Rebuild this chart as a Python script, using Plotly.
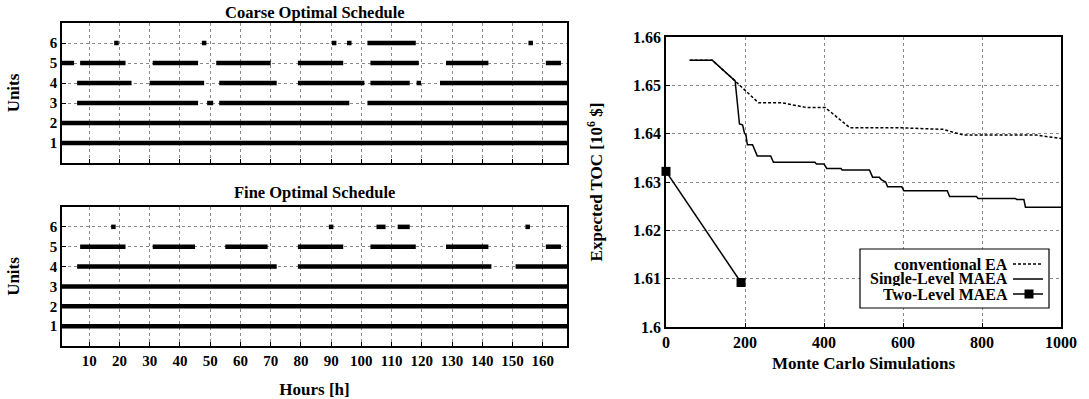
import plotly.graph_objects as go

# ---------------- data ----------------
hours_range = [1, 168]
units = [1, 2, 3, 4, 5, 6]
hour_ticks = [10, 20, 30, 40, 50, 60, 70, 80, 90, 100, 110, 120, 130, 140, 150, 160]

# ON intervals (start hour, end hour) per unit; start == end -> single hour
coarse_u1 = [(1, 168)]
coarse_u2 = [(1, 168)]
coarse_u3 = [(6, 46), (49, 51), (53, 96), (102, 168)]
coarse_u4 = [(6, 24), (30, 48), (53, 72), (79, 101), (103, 116), (119, 119), (126, 168)]
coarse_u5 = [(1, 5), (7, 22), (31, 46), (52, 70), (79, 94), (103, 119), (128, 142), (161, 166)]
coarse_u6 = [(19, 19), (48, 48), (91, 91), (96, 96), (102, 118), (156, 156)]

fine_u1 = [(1, 168)]
fine_u2 = [(1, 168)]
fine_u3 = [(1, 168)]
fine_u4 = [(6, 72), (79, 143), (151, 168)]
fine_u5 = [(7, 22), (31, 45), (55, 69), (79, 94), (103, 118), (128, 142), (161, 166)]
fine_u6 = [(18, 18), (90, 90), (105, 108), (112, 116), (155, 155)]

# Expected TOC curves
conv_ea_x = [60, 117, 175, 234, 293, 356, 403, 440, 466, 597, 701, 753, 938, 1000]
conv_ea_y = [1.6552, 1.6552, 1.6509, 1.6464, 1.6464, 1.6454, 1.6454, 1.6430, 1.6412,
             1.6412, 1.6409, 1.6397, 1.6397, 1.6390]

single_x = [60, 117, 175, 186, 191, 194, 199, 202, 206, 219, 231, 265, 272, 377, 381,
            400, 407, 443, 446, 515, 523, 540, 545, 556, 561, 597, 602, 712, 718, 786,
            790, 884, 888, 906, 910, 1000]
single_y = [1.6552, 1.6552, 1.6509, 1.6420, 1.6419, 1.6418, 1.6400, 1.6399, 1.6377,
            1.6377, 1.6354, 1.6354, 1.6341, 1.6341, 1.6337, 1.6337, 1.6328, 1.6328,
            1.6325, 1.6325, 1.6310, 1.6310, 1.6305, 1.6300, 1.6290, 1.6290, 1.6282,
            1.6282, 1.6270, 1.6270, 1.6266, 1.6266, 1.6264, 1.6264, 1.6248, 1.6248]

two_level_x = [0, 190]
two_level_y = [1.6322, 1.6092]

toc_x_ticks = [0, 200, 400, 600, 800, 1000]
toc_y_ticks = [1.60, 1.61, 1.62, 1.63, 1.64, 1.65, 1.66]
toc_y_labels = ["1.6", "1.61", "1.62", "1.63", "1.64", "1.65", "1.66"]

legend_names = ["conventional EA", "Single-Level MAEA", "Two-Level MAEA"]

# ---------------- figure ----------------
FONT = "Liberation Serif"
W, H = 1089, 399


def px_x(p):
    return p / W


def px_y(p):
    return 1 - p / H


def b(s):
    return "<b>" + str(s) + "</b>"


fig = go.Figure()


def add_schedule(sched, xa, ya):
    for u, ivals in zip(units, sched):
        lx, ly, sx, sy = [], [], [], []
        for s, e in ivals:
            if e > s:
                lx += [s, e, None]
                ly += [u, u, None]
            else:
                sx.append(s)
                sy.append(u)
        fig.add_trace(go.Scatter(x=lx, y=ly, mode="lines", xaxis=xa, yaxis=ya,
                                 line=dict(color="black", width=4.5),
                                 showlegend=False, hoverinfo="skip"))
        if sx:
            fig.add_trace(go.Scatter(x=sx, y=sy, mode="markers", xaxis=xa, yaxis=ya,
                                     marker=dict(symbol="square", color="black", size=4.5,
                                                 line=dict(width=0)),
                                     showlegend=False, hoverinfo="skip"))


add_schedule([coarse_u1, coarse_u2, coarse_u3, coarse_u4, coarse_u5, coarse_u6], "x", "y")
add_schedule([fine_u1, fine_u2, fine_u3, fine_u4, fine_u5, fine_u6], "x2", "y2")

fig.add_trace(go.Scatter(x=conv_ea_x, y=conv_ea_y, mode="lines", xaxis="x3", yaxis="y3",
                         line=dict(color="black", width=1.5, dash="3px,2px"),
                         name=legend_names[0], showlegend=False))
fig.add_trace(go.Scatter(x=single_x, y=single_y, mode="lines", xaxis="x3", yaxis="y3",
                         line=dict(color="black", width=1.5),
                         name=legend_names[1], showlegend=False))
fig.add_trace(go.Scatter(x=two_level_x, y=two_level_y, mode="lines+markers", xaxis="x3", yaxis="y3",
                         line=dict(color="black", width=1.5),
                         marker=dict(symbol="square", size=9, color="black"),
                         name=legend_names[2], showlegend=False, cliponaxis=False))

grid = dict(showgrid=True, gridcolor="#8a8a8a", griddash="dot", gridwidth=1,
            showline=True, linecolor="black", linewidth=1.5, mirror=True,
            ticks="inside", ticklen=4, tickcolor="black", zeroline=False, automargin=False)
tf_left = dict(family=FONT, size=15, color="black")
tf_right = dict(family=FONT, size=16, color="black")
title_font = dict(family=FONT, size=17, color="black")

lx0, lx1 = px_x(62), px_x(567)

fig.update_layout(
    width=W, height=H, margin=dict(l=0, r=0, t=0, b=0, autoexpand=False),
    plot_bgcolor="white", paper_bgcolor="white",
    font=dict(family=FONT, color="black"),
    xaxis=dict(domain=[lx0, lx1], range=hours_range, anchor="y", tickvals=hour_ticks,
               showticklabels=False, **grid),
    yaxis=dict(domain=[px_y(163), px_y(23)], range=[0, 7], anchor="x", tickvals=units,
               ticktext=[b(u) for u in units], tickfont=tf_left,
               title=dict(text=b("Units"), font=title_font, standoff=26), **grid),
    xaxis2=dict(domain=[lx0, lx1], range=hours_range, anchor="y2", tickvals=hour_ticks,
                ticktext=[b(h) for h in hour_ticks], tickfont=tf_left,
                title=dict(text=b("Hours [h]"), font=title_font, standoff=20), **grid),
    yaxis2=dict(domain=[px_y(346), px_y(207)], range=[0, 7], anchor="x2", tickvals=units,
                ticktext=[b(u) for u in units], tickfont=tf_left,
                title=dict(text=b("Units"), font=title_font, standoff=26), **grid),
    xaxis3=dict(domain=[px_x(666), px_x(1061)], range=[0, 1000], anchor="y3", tickvals=toc_x_ticks,
                ticktext=[b(t) for t in toc_x_ticks], tickfont=tf_right,
                title=dict(text=b("Monte Carlo Simulations"), font=title_font, standoff=7), **grid),
    yaxis3=dict(domain=[px_y(327), px_y(37)], range=[1.60, 1.66], anchor="x3", tickvals=toc_y_ticks,
                ticktext=[b(t) for t in toc_y_labels], tickfont=tf_right,
                title=dict(text=b("Expected TOC [10<sup>6</sup> $]"), font=title_font, standoff=26),
                **grid),
)

# panel titles
fig.add_annotation(text=b("Coarse Optimal Schedule"), xref="paper", yref="paper",
                   x=(lx0 + lx1) / 2, y=px_y(12), xanchor="center", yanchor="middle",
                   showarrow=False, font=dict(family=FONT, size=16.5, color="black"))
fig.add_annotation(text=b("Fine Optimal Schedule"), xref="paper", yref="paper",
                   x=(lx0 + lx1) / 2, y=px_y(193), xanchor="center", yanchor="middle",
                   showarrow=False, font=dict(family=FONT, size=16.5, color="black"))

# custom gnuplot-style legend (text then sample)
legend_rows = [264, 279, 294]
fig.add_shape(type="rect", xref="paper", yref="paper", x0=px_x(860), x1=px_x(1049),
              y0=px_y(308), y1=px_y(249), line=dict(color="black", width=1.2),
              fillcolor="white", layer="above")
for name, row in zip(legend_names, legend_rows):
    fig.add_annotation(text=b(name), xref="paper", yref="paper",
                       x=px_x(1010), y=px_y(row), xanchor="right", yanchor="middle",
                       showarrow=False, font=dict(family=FONT, size=16, color="black"),
                       height=14, valign="middle")
fig.add_shape(type="line", xref="paper", yref="paper", x0=px_x(1013), x1=px_x(1043),
              y0=px_y(legend_rows[0]), y1=px_y(legend_rows[0]),
              line=dict(color="black", width=1.5, dash="3px,2px"), layer="above")
fig.add_shape(type="line", xref="paper", yref="paper", x0=px_x(1013), x1=px_x(1043),
              y0=px_y(legend_rows[1]), y1=px_y(legend_rows[1]),
              line=dict(color="black", width=1.5), layer="above")
fig.add_shape(type="line", xref="paper", yref="paper", x0=px_x(1013), x1=px_x(1043),
              y0=px_y(legend_rows[2]), y1=px_y(legend_rows[2]),
              line=dict(color="black", width=1.5), layer="above")
fig.add_shape(type="rect", xref="paper", yref="paper", x0=px_x(1024.5), x1=px_x(1033.5),
              y0=px_y(legend_rows[2] + 4.5), y1=px_y(legend_rows[2] - 4.5),
              line=dict(color="black", width=0), fillcolor="black", layer="above")

# remove the default 8px page margin so the figure fills the window exactly
fig.write_html("out.html", config={"displayModeBar": False},
               post_script="document.body.style.margin='0';")
